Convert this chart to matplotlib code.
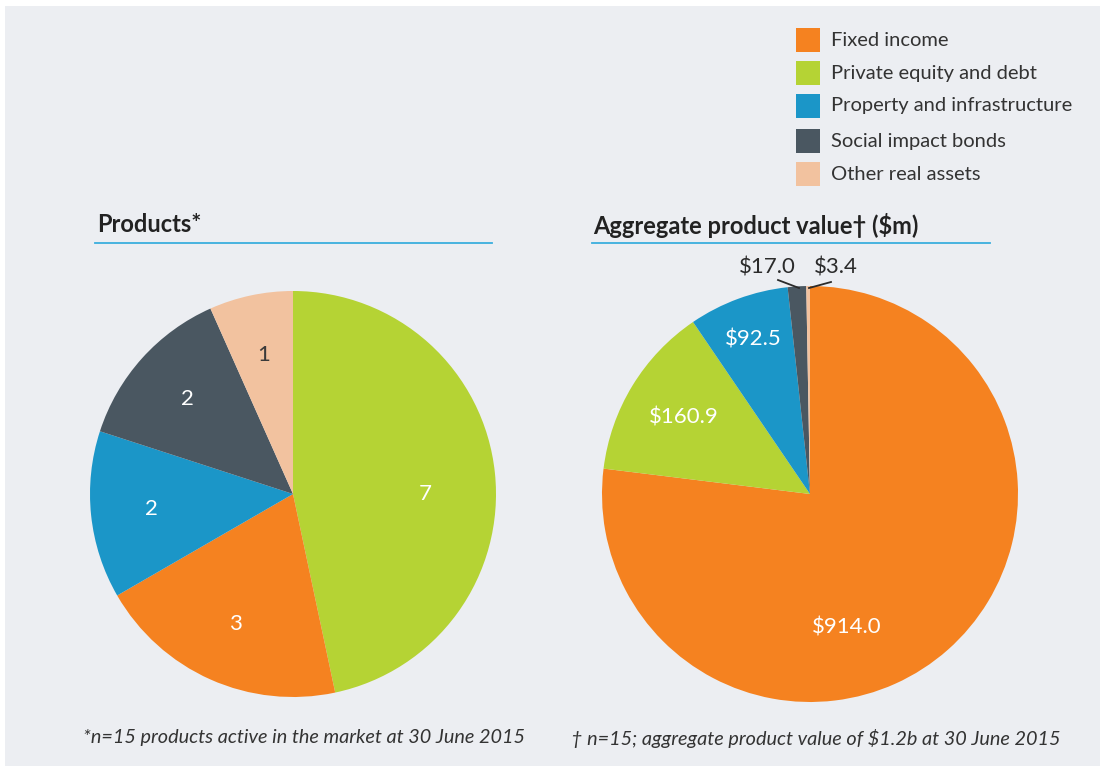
import numpy as np
import matplotlib
matplotlib.use("Agg")
import matplotlib.pyplot as plt
from matplotlib.patches import Rectangle

plt.rcParams['font.family'] = ['Lato', 'DejaVu Sans']

# ---- data ----
categories = ["Fixed income", "Private equity and debt", "Property and infrastructure",
              "Social impact bonds", "Other real assets"]
colors = ["#f58220", "#b5d334", "#1b96c8", "#4a5761", "#f2c29f"]

# products (count), drawn clockwise from 12 o'clock
prod_order = [1, 0, 2, 3, 4]
prod_counts = [3, 7, 2, 2, 1]          # indexed like categories

# aggregate value ($m)
val_order = [0, 1, 2, 3, 4]
values = [914.0, 160.9, 92.5, 17.0, 3.4]

W, H = 1105, 772
fig = plt.figure(figsize=(W / 100, H / 100), dpi=100)
fig.patch.set_facecolor("white")
ax = fig.add_axes([0, 0, 1, 1])


def py(y):
    # pixel row -> data y
    return H - y


ax.add_patch(Rectangle((5, py(766)), 1095, 760, facecolor="#eceef2", edgecolor="none", zorder=0))

# ---- left pie ----
lc, lr = (293, py(494)), 203
w1, t1 = ax.pie([prod_counts[i] for i in prod_order],
                colors=[colors[i] for i in prod_order],
                labels=[str(prod_counts[i]) for i in prod_order],
                labeldistance=0.7, startangle=90, counterclock=False,
                center=lc, radius=lr, frame=False,
                wedgeprops=dict(linewidth=0),
                textprops=dict(color="white", fontsize=16))
for i, t in zip(prod_order, t1):
    t.set_ha("center")
    t.set_va("center")
    if i == 4:
        t.set_color("#3a3a3a")
t1[0].set_position((425, py(494)))

# ---- right pie ----
rc, rr = (810, py(494)), 208
w2, t2 = ax.pie([values[i] for i in val_order],
                colors=[colors[i] for i in val_order],
                startangle=90, counterclock=False,
                center=rc, radius=rr, frame=False,
                wedgeprops=dict(linewidth=0))
lab_dist = [0.67, 0.71, 0.79]
for k, w in enumerate(w2[:3]):
    v = values[val_order[k]]
    ang = np.deg2rad((w.theta1 + w.theta2) / 2)
    d = lab_dist[k] * rr
    x, y = rc[0] + d * np.cos(ang), rc[1] + d * np.sin(ang)
    if k == 0:
        x, y = 847, py(628)
    ax.text(x, y, f"${v:.1f}", color="white", fontsize=16, ha="center", va="center")

# small slices with leader lines
ax.text(767, py(268), f"${values[3]:.1f}", color="#2b2b2b", fontsize=16, ha="center", va="center")
ax.text(836, py(268), f"${values[4]:.1f}", color="#2b2b2b", fontsize=16, ha="center", va="center")
ax.plot([778, 799], [py(280), py(288)], color="#2b2b2b", lw=1.3)
ax.plot([831, 809], [py(282), py(288)], color="#2b2b2b", lw=1.3)

# ---- titles ----
ax.text(97, py(225), "Products*", fontsize=17, fontweight="bold", color="#222222",
        ha="left", va="center")
ax.plot([95, 492], [py(243), py(243)], color="#3aaede", lw=1.3)
ax.text(593, py(225), "Aggregate product value\u2020 ($m)", fontsize=17, fontweight="bold",
        color="#222222", ha="left", va="center")
ax.plot([592, 990], [py(243), py(243)], color="#3aaede", lw=1.3)

# ---- legend ----
leg_y = [40, 73, 106, 141, 174]
for c, lab, y in zip(colors, categories, leg_y):
    ax.add_patch(Rectangle((796, py(y) - 12), 24, 24, facecolor=c, edgecolor="none"))
    ax.text(831, py(y), lab, fontsize=14.5, color="#333333", ha="left", va="center")

# ---- footnotes ----
ax.text(83, py(738), "*n=15 products active in the market at 30 June 2015", fontsize=14.3,
        style="italic", color="#333333", ha="left", va="center")
ax.text(571, py(738), "\u2020 n=15; aggregate product value of $1.2b at 30 June 2015", fontsize=14.3,
        style="italic", color="#333333", ha="left", va="center")

ax.set_xlim(0, W)
ax.set_ylim(0, H)
ax.set_aspect("equal")
ax.axis("off")

fig.savefig("out.png", dpi=100, facecolor=fig.get_facecolor())
